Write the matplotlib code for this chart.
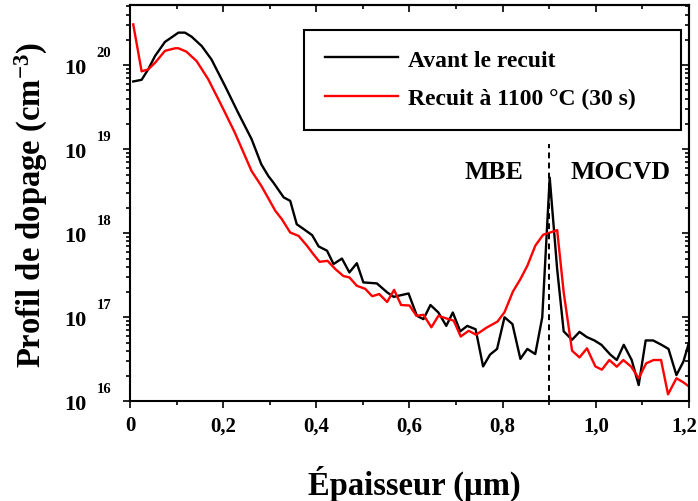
import matplotlib
matplotlib.use('Agg')
import matplotlib.pyplot as plt
from matplotlib.patches import Rectangle
from matplotlib.ticker import MultipleLocator, LogLocator, NullFormatter

plt.rcParams['font.family'] = ['Liberation Serif', 'DejaVu Serif']
plt.rcParams['font.weight'] = 'bold'
plt.rcParams['axes.labelweight'] = 'bold'
plt.rcParams['mathtext.fontset'] = 'custom'
plt.rcParams['mathtext.rm'] = 'Liberation Serif:bold'
plt.rcParams['mathtext.bf'] = 'Liberation Serif:bold'
plt.rcParams['mathtext.default'] = 'bf'

# SIMS profile before annealing (x in um, concentration in cm^-3)
avant_x = [0.007, 0.025, 0.039, 0.054, 0.075, 0.104, 0.118, 0.132, 0.154, 0.175,
           0.204, 0.232, 0.261, 0.282, 0.297, 0.308, 0.330, 0.344, 0.358, 0.373,
           0.391, 0.405, 0.423, 0.437, 0.455, 0.471, 0.487, 0.501, 0.530, 0.552,
           0.566, 0.598, 0.616, 0.630, 0.645, 0.662, 0.679, 0.693, 0.709, 0.724,
           0.742, 0.758, 0.773, 0.788, 0.804, 0.821, 0.838, 0.853, 0.870, 0.885,
           0.901, 0.917, 0.931, 0.949, 0.965, 0.981, 0.997, 1.012, 1.031, 1.045,
           1.060, 1.077, 1.092, 1.107, 1.123, 1.141, 1.156, 1.173, 1.188, 1.200]
avant_y = [6.4e19, 6.7e19, 8.9e19, 1.29e20, 1.89e20, 2.44e20, 2.44e20, 2.19e20, 1.69e20, 1.17e20,
           5.66e19, 2.73e19, 1.32e19, 6.6e18, 4.8e18, 4.0e18, 2.67e18, 2.43e18, 1.28e18, 1.12e18,
           9.5e17, 6.97e17, 6.2e17, 4.3e17, 5.0e17, 3.42e17, 4.4e17, 2.6e17, 2.53e17, 1.98e17,
           1.75e17, 1.92e17, 1.04e17, 9.5e16, 1.40e17, 1.14e17, 7.9e16, 1.14e17, 6.8e16, 7.9e16,
           7.2e16, 2.6e16, 3.6e16, 4.2e16, 1.0e17, 8.3e16, 3.2e16, 4.2e16, 3.65e16, 1.0e17,
           4.6e18, 3.74e17, 6.8e16, 5.4e16, 6.7e16, 5.8e16, 5.3e16, 4.7e16, 3.6e16, 3.1e16,
           4.7e16, 3.1e16, 1.56e16, 5.3e16, 5.3e16, 4.7e16, 4.2e16, 2.05e16, 2.97e16, 5.0e16]

# after annealing at 1100 C, 30 s
recuit_x = [0.007, 0.025, 0.039, 0.054, 0.075, 0.097, 0.104, 0.121, 0.143, 0.168,
            0.197, 0.225, 0.261, 0.282, 0.294, 0.312, 0.326, 0.344, 0.362, 0.380,
            0.394, 0.407, 0.424, 0.441, 0.458, 0.471, 0.487, 0.505, 0.520, 0.535,
            0.552, 0.567, 0.582, 0.600, 0.615, 0.630, 0.647, 0.662, 0.679, 0.695,
            0.710, 0.727, 0.743, 0.765, 0.789, 0.804, 0.822, 0.838, 0.853, 0.870,
            0.887, 0.902, 0.917, 0.931, 0.949, 0.965, 0.981, 0.999, 1.013, 1.029,
            1.045, 1.059, 1.076, 1.092, 1.108, 1.124, 1.140, 1.155, 1.173, 1.188, 1.202]
recuit_y = [3.06e20, 8.45e19, 8.9e19, 1.07e20, 1.48e20, 1.59e20, 1.59e20, 1.45e20, 1.12e20, 6.8e19,
            3.27e19, 1.58e19, 5.5e18, 3.66e18, 2.79e18, 1.85e18, 1.47e18, 1.02e18, 9.3e17, 7.1e17,
            5.6e17, 4.57e17, 4.7e17, 3.74e17, 3.1e17, 2.98e17, 2.37e17, 2.18e17, 1.78e17, 1.89e17,
            1.52e17, 2.12e17, 1.40e17, 1.38e17, 1.04e17, 1.07e17, 7.6e16, 1.04e17, 9.7e16, 9.1e16,
            5.9e16, 6.9e16, 6.2e16, 7.5e16, 8.9e16, 1.15e17, 2.02e17, 2.84e17, 4.1e17, 7.1e17,
            9.6e17, 1.02e18, 1.09e18, 1.98e17, 4.0e16, 3.33e16, 4.27e16, 2.6e16, 2.38e16, 3.1e16,
            2.58e16, 3.1e16, 2.58e16, 1.88e16, 2.83e16, 3.1e16, 3.1e16, 1.21e16, 1.88e16, 1.68e16, 1.47e16]

interface_x = 0.9
decades = [16, 17, 18, 19, 20]
xticks = [0, 0.2, 0.4, 0.6, 0.8, 1.0, 1.2]
xtick_labels = ['0', '0,2', '0,4', '0,6', '0,8', '1,0', '1,2']

fig = plt.figure(figsize=(6.98, 5.02), dpi=100)
ax = fig.add_axes([0.1862, 0.1986, 0.8009, 0.7894])

ax.plot(avant_x, avant_y, color='black', lw=1.7, label='Avant le recuit')
ax.plot(recuit_x, recuit_y, color='red', lw=1.7, label='Recuit à 1100 °C (30 s)')
ax.plot([interface_x, interface_x], [1e16, 1.15e19], color='black', lw=1.4,
        linestyle=(0, (3, 2.2)))

ax.set_yscale('log')
ax.set_xlim(0, 1.2)
ax.set_ylim(1e16, 5.2e20)

for s in ax.spines.values():
    s.set_linewidth(1.5)

ax.set_xticks(xticks)
# the last label ("1,2") sits against the figure edge, drawn separately below
ax.set_xticklabels(xtick_labels[:-1] + [''], fontsize=15)
ax.annotate(xtick_labels[-1], xy=(xticks[-1], 0), xycoords=ax.get_xaxis_transform(),
            xytext=(-3.6, -10), textcoords='offset points', ha='center', va='top',
            fontsize=15, annotation_clip=False)
ax.xaxis.set_minor_locator(MultipleLocator(0.1))
ax.set_yticks([10.0 ** d for d in decades])
ax.set_yticklabels(['10'] * len(decades), fontsize=16)
ax.yaxis.set_minor_locator(LogLocator(base=10, subs=range(2, 10), numticks=20))
ax.yaxis.set_minor_formatter(NullFormatter())

ax.tick_params(which='both', width=1.2)
ax.tick_params(which='major', length=5)
ax.tick_params(which='minor', length=3)
ax.tick_params(axis='x', which='both', direction='out', top=False, pad=5)
ax.tick_params(axis='y', which='both', direction='out', right=False, pad=26)

# inward ticks on top and right
top = ax.secondary_xaxis('top')
top.set_xticks(xticks)
top.xaxis.set_minor_locator(MultipleLocator(0.1))
top.tick_params(which='both', direction='in', width=1.2, labeltop=False)
top.tick_params(which='major', length=5)
top.tick_params(which='minor', length=3)
top.spines['top'].set_linewidth(1.5)
right = ax.secondary_yaxis('right')
right.set_yticks([10.0 ** d for d in decades])
right.yaxis.set_minor_locator(LogLocator(base=10, subs=range(2, 10), numticks=20))
right.yaxis.set_minor_formatter(NullFormatter())
right.tick_params(which='both', direction='in', width=1.2, labelright=False)
right.tick_params(which='major', length=5)
right.tick_params(which='minor', length=3)
right.spines['right'].set_linewidth(1.5)

# exponents of the y tick labels
for d in decades:
    ax.annotate(str(d), xy=(0, 10.0 ** d), xycoords=ax.get_yaxis_transform(),
                xytext=(-18.7, 9.4), textcoords='offset points',
                ha='center', va='center', fontsize=10.5, annotation_clip=False)

ax.set_xlabel('Épaisseur (µm)', fontsize=23.5, fontweight='bold', va='center')
ax.xaxis.set_label_coords(0.508, -0.206)
ax.set_ylabel(r'Profil de dopage (cm$^{-3}$)', fontsize=23.5, fontweight='bold', va='center')
ax.yaxis.set_label_coords(-0.177, 0.498)

ax.text(0.782, 5.5e18, 'MBE', fontsize=18.5, ha='center', va='center')
ax.text(1.052, 5.5e18, 'MOCVD', fontsize=18.5, ha='center', va='center')

ax.add_patch(Rectangle((0.311, 0.685), 0.675, 0.252, transform=ax.transAxes,
                       fill=False, edgecolor='black', lw=1.5, zorder=5))
leg = ax.legend(loc='upper left', bbox_to_anchor=(0.4656, 0.9),
                bbox_transform=fig.transFigure, frameon=False, fontsize=17,
                handlelength=3.1, handletextpad=0.42, labelspacing=0.7,
                borderpad=0, borderaxespad=0)
for line in leg.get_lines():
    line.set_linewidth(1.7)

fig.savefig('out.png', dpi=100)
